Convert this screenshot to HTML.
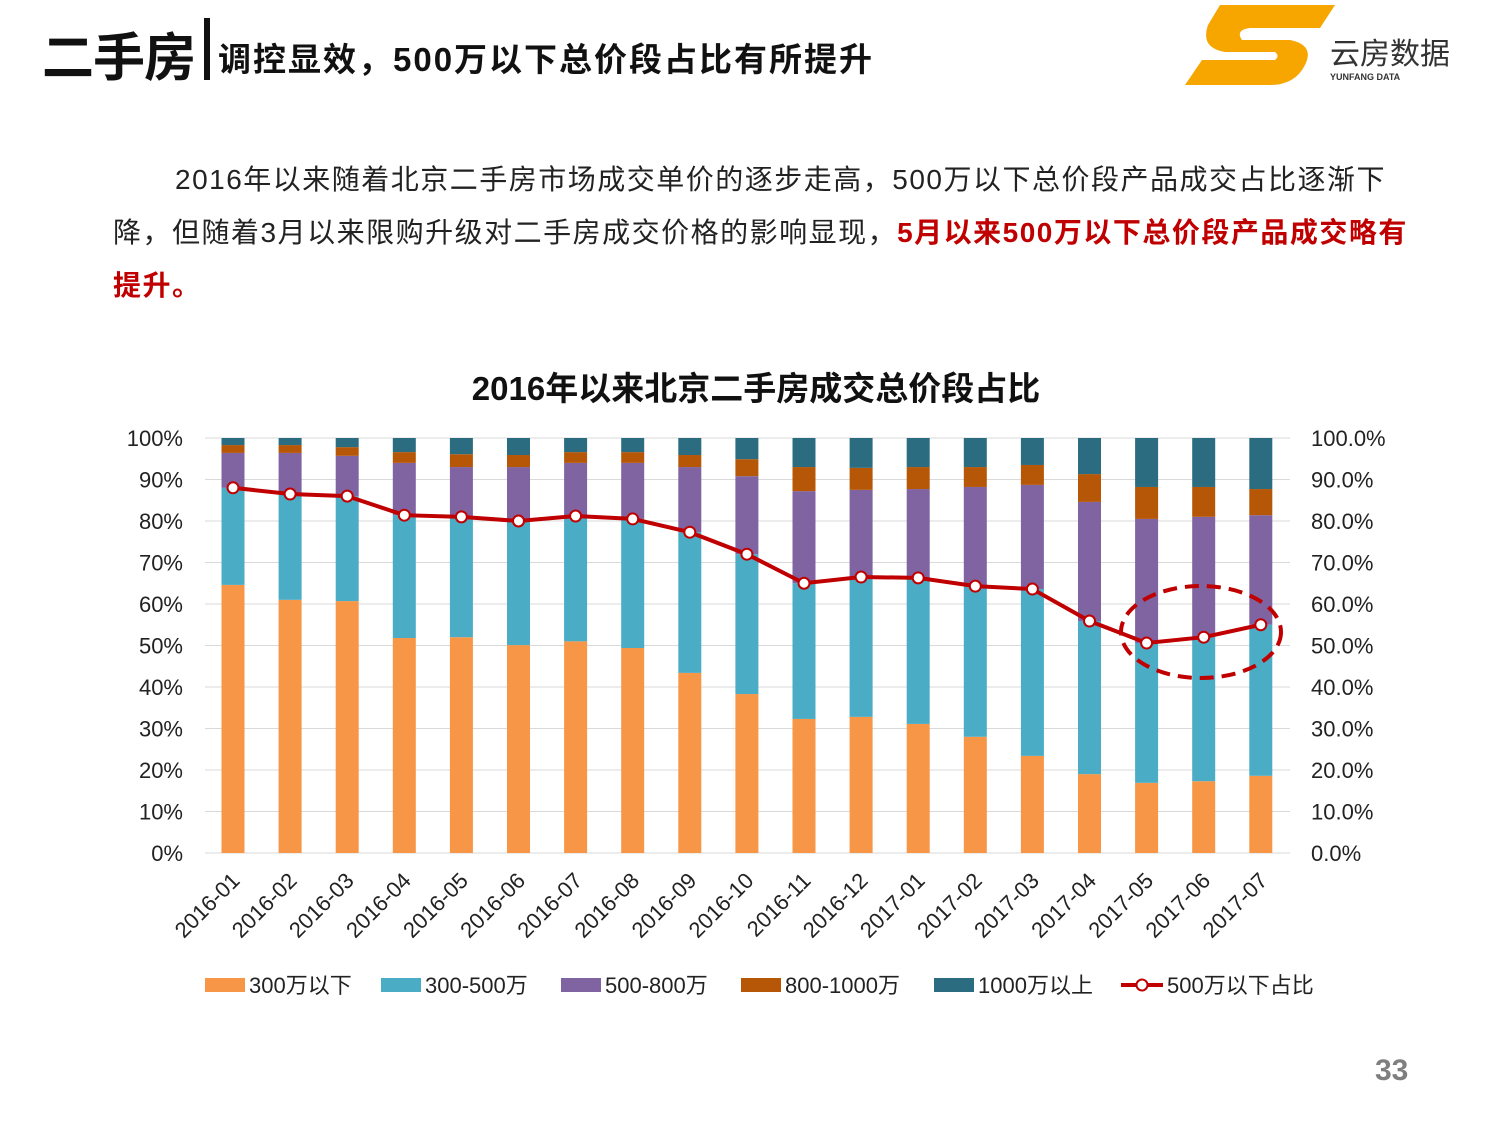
<!DOCTYPE html>
<html><head><meta charset="utf-8">
<style>
body{margin:0;background:#fff;font-family:"Liberation Sans","Noto Sans CJK SC",sans-serif;}
#root{position:relative;width:1500px;height:1125px;overflow:hidden;}
.t{position:absolute;white-space:nowrap;}
</style></head>
<body><div id="root">
<div class="t" style="left:42px;top:16px;font-size:52px;font-weight:bold;color:#111;letter-spacing:-1px;">二手房</div>
<div style="position:absolute;left:204px;top:18px;width:6px;height:62px;background:#111;"></div>
<div class="t" style="left:218px;top:33px;font-size:33px;font-weight:bold;color:#111;letter-spacing:2px;">调控显效，500万以下总价段占比有所提升</div>
<svg style="position:absolute;left:1180px;top:0" width="290" height="90">
<path d="M40 5 L155 5 L140 28 L70 28 Q55 30 62 40 L110 40 Q135 45 125 65 Q115 85 90 85 L5 85 L22 60 L95 60 Q100 56 95 52 L45 52 Q20 48 28 25 Z" fill="#f7a600"/>
<text x="150" y="64" font-size="30" fill="#333" font-family="Liberation Sans,Noto Sans CJK SC,sans-serif">云房数据</text>
<text x="150" y="80" font-size="9" fill="#333" font-weight="bold" font-family="Liberation Sans,sans-serif">YUNFANG DATA</text>
</svg>
<div class="t" style="left:175px;top:158px;font-size:28px;color:#222;letter-spacing:1.5px;">2016年以来随着北京二手房市场成交单价的逐步走高，500万以下总价段产品成交占比逐渐下</div>
<div class="t" style="left:113px;top:211px;font-size:28px;color:#222;letter-spacing:1.5px;">降，但随着3月以来限购升级对二手房成交价格的影响显现，<b style="color:#c00000">5月以来500万以下总价段产品成交略有</b></div>
<div class="t" style="left:113px;top:264px;font-size:28px;color:#c00000;font-weight:bold;letter-spacing:1.5px;">提升。</div>
<div class="t" style="left:0;width:1512px;text-align:center;top:362px;font-size:33px;font-weight:bold;color:#111;">2016年以来北京二手房成交总价段占比</div>
<svg id="chart" style="position:absolute;left:0;top:0" width="1500" height="1125"></svg>
<div class="t" style="left:1375px;top:1054px;font-size:30px;font-weight:bold;color:#7f7f7f;">33</div>
</div>
<script>
const categories=["2016-01","2016-02","2016-03","2016-04","2016-05","2016-06","2016-07","2016-08","2016-09","2016-10","2016-11","2016-12","2017-01","2017-02","2017-03","2017-04","2017-05","2017-06","2017-07"];
const under300=[64.6,61,60.7,51.8,52,50.1,51,49.4,43.4,38.3,32.3,32.8,31.1,28,23.4,19,16.9,17.3,18.6];
const s300to500=[23.4,25.5,25.3,29.6,29,29.9,30.2,31.1,33.9,33.7,32.7,33.7,35.2,36.3,40.2,36.9,33.7,34.7,36.4];
const s500to800=[8.4,9.9,9.7,12.6,12,13,12.8,13.5,15.7,18.8,22.2,21,21.4,23.9,25.1,28.7,29.9,29,26.4];
const s800to1000=[1.9,1.9,2.1,2.6,3.1,2.9,2.6,2.6,2.9,4.1,5.8,5.3,5.3,4.8,4.8,6.7,7.7,7.2,6.3];
const under500Share=[88,86.5,86,81.4,81,80,81.2,80.5,77.3,72,65,66.5,66.3,64.3,63.6,55.9,50.6,52,55];
const leftTicks=["0%","10%","20%","30%","40%","50%","60%","70%","80%","90%","100%"];
const rightTicks=["0.0%","10.0%","20.0%","30.0%","40.0%","50.0%","60.0%","70.0%","80.0%","90.0%","100.0%"];
const colors=["#f79646","#4bacc6","#8064a2","#b65708","#2c6c80"];
const names=["300万以下","300-500万","500-800万","800-1000万","1000万以上"];
const svg=document.getElementById('chart');const NS="http://www.w3.org/2000/svg";
function mk(t,a,p){const e=document.createElementNS(NS,t);for(const k in a)e.setAttribute(k,a[k]);(p||svg).appendChild(e);return e;}
const y=v=>853-v*4.15, x=i=>233+i*57.1;
leftTicks.forEach((l,i)=>{
 const g=mk('line',{x1:205,x2:1290,y1:y(i*10),y2:y(i*10),stroke:'#d9d9d9'});
 
 const t=mk('text',{x:183,y:y(i*10)+8,'text-anchor':'end','font-size':22,fill:'#222'});t.textContent=l;
 
 const r=mk('text',{x:1311,y:y(i*10)+8,'font-size':22,fill:'#222'});r.textContent=rightTicks[i];
 
});
categories.forEach((c,i)=>{
 const vals=[under300[i],s300to500[i],s500to800[i],s800to1000[i]];
 vals.push(100-vals.reduce((a,b)=>a+b,0));
 let acc=0;
 vals.forEach((v,k)=>{
  const r=mk('rect',{x:x(i)-11.5,width:23,y:y(acc+v),height:v*4.15,fill:colors[k]});
  
  acc+=v;
 });
 const t=mk('text',{transform:`translate(${x(i)+8},${882}) rotate(-45)`,'text-anchor':'end','font-size':22,fill:'#222'});t.textContent=c;
 
});
const pl=mk('polyline',{points:under500Share.map((v,i)=>x(i)+','+y(v)).join(' '),fill:'none',stroke:'#c00000','stroke-width':4});

under500Share.forEach((v,i)=>{const c=mk('circle',{cx:x(i),cy:y(v),r:5.5,fill:'#fff',stroke:'#c00000','stroke-width':2});
 });
const el=mk('ellipse',{cx:1201,cy:632,rx:80,ry:46,fill:'none',stroke:'#c00000','stroke-width':4,'stroke-dasharray':'14 8'});

const lx=[205,381,561,741,934];
names.forEach((n,k)=>{
 const r=mk('rect',{x:lx[k],y:978,width:40,height:14,fill:colors[k]});
 
 const t=mk('text',{x:lx[k]+44,y:993,'font-size':22,fill:'#222'});t.textContent=n;
 
});
const ll=mk('line',{x1:1121,x2:1163,y1:985,y2:985,stroke:'#c00000','stroke-width':4});

const lc=mk('circle',{cx:1142,cy:985,r:5.5,fill:'#fff',stroke:'#c00000','stroke-width':2});

const lt=mk('text',{x:1167,y:993,'font-size':22,fill:'#222'});lt.textContent="500万以下占比";

</script>
</body></html>
